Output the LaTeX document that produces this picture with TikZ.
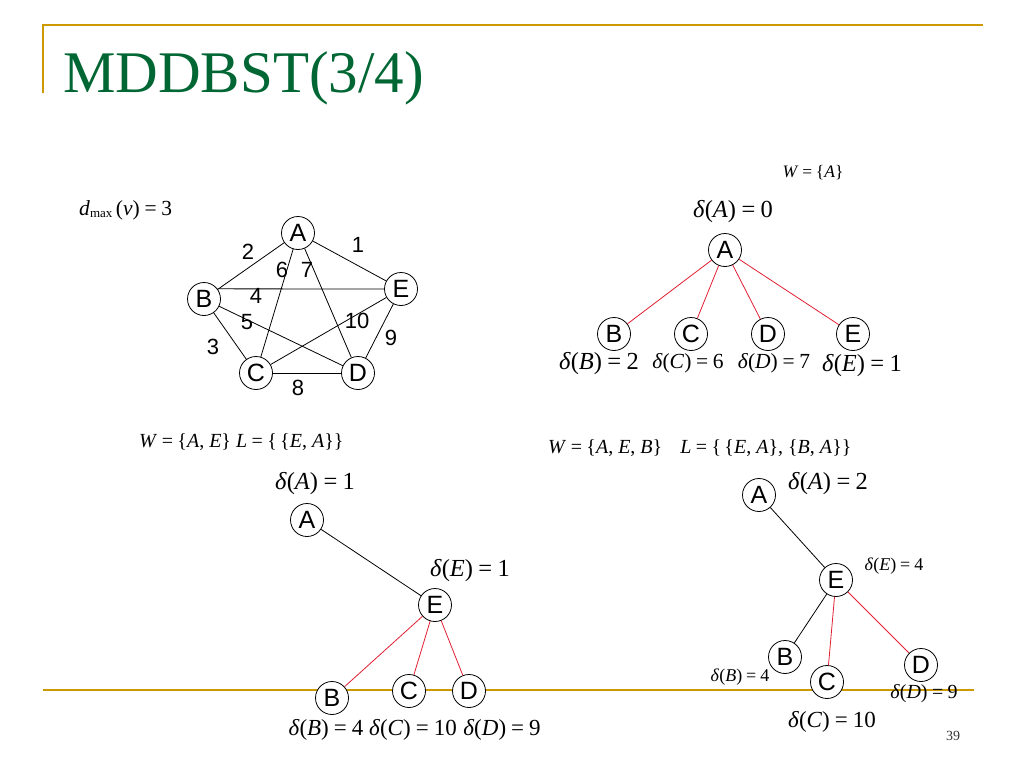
\documentclass[tikz,border=0pt]{standalone}
\usepackage{fontspec}
\setmainfont{Liberation Serif}
\newfontfamily\sansf{Liberation Sans}
\definecolor{titlegreen}{RGB}{0,102,51}
\definecolor{gold}{RGB}{204,153,0}
\definecolor{redge}{RGB}{225,30,50}
\newcommand\eqs{\hspace{0.22em}=\hspace{0.22em}}
\newcommand\dl[2]{\textit{δ}(\textit{#1})\eqs #2}
\tikzset{
  vtx/.style={circle, draw, fill=white, minimum size=33pt, inner sep=0pt, line width=0.8pt,
    font=\sansf\fontsize{25}{25}\selectfont},
  elab/.style={inner sep=0pt, font=\sansf\fontsize{22}{22}\selectfont},
  bigm/.style={inner sep=0pt, font=\fontsize{24.5}{24.5}\selectfont},
  botm/.style={inner sep=0pt, font=\fontsize{23}{23}\selectfont},
  midm/.style={inner sep=0pt, font=\fontsize{21.5}{21.5}\selectfont},
  wm/.style={inner sep=0pt, font=\fontsize{20}{20}\selectfont},
  smm/.style={inner sep=0pt, font=\fontsize{18}{18}\selectfont},
  blk/.style={line width=0.8pt},
  redg/.style={draw=redge, line width=0.8pt},
  goldline/.style={draw=gold, line width=2pt}
}
\begin{document}
\begin{tikzpicture}[x=1pt,y=-1pt]
\useasboundingbox (0,0) rectangle (1024,768);
% header and footer lines
\coordinate (h0) at (43,93);
\coordinate (h1) at (43,25);
\coordinate (h2) at (983,25);
\draw[goldline] (h0) -- (h1) -- (h2);
\coordinate (f0) at (43,690);
\coordinate (f1) at (974,690);
\draw[goldline] (f0) -- (f1);
\node[anchor=base west, inner sep=0pt, text=titlegreen, font=\fontsize{59}{59}\selectfont] (title) at (63,92) {MDDBST(3/4)};

% ---------- graph ----------
\node[midm, anchor=west] (dmax) at (79,210) {\textit{d}{\fontsize{13}{13}\selectfont\raisebox{-0.35ex}{max}}\,(\textit{v})\eqs 3};
\node[vtx] (gA) at (298,233) {A};
\node[vtx] (gB) at (204,299) {B};
\node[vtx] (gE) at (401,289) {E};
\node[vtx] (gC) at (256,373) {C};
\node[vtx] (gD) at (358,373) {D};
\draw[blk] (gA) -- (gB);
\draw[blk] (gA) -- (gE);
\draw[blk] (gA) -- (gC);
\draw[blk] (gA) -- (gD);
\draw[blk] (gB.37) -- (gE.west);
\draw[blk] (gB) -- (gC);
\draw[blk] (gB) -- (gD);
\draw[blk] (gC) -- (gE);
\draw[blk] (gC) -- (gD);
\draw[blk] (gD) -- (gE);
\node[elab] (l2) at (248,252) {2};
\node[elab] (l1) at (358,245) {1};
\node[elab] (l6) at (282,270) {6};
\node[elab] (l7) at (307,270) {7};
\node[elab] (l4) at (256,296) {4};
\node[elab] (l5) at (247,322) {5};
\node[elab] (l10) at (357,321) {10};
\node[elab] (l9) at (391,338) {9};
\node[elab] (l3) at (213,347) {3};
\node[elab] (l8) at (298,388) {8};

% ---------- tree 1 (top right) ----------
\node[inner sep=0pt, font=\fontsize{17.5}{17.5}\selectfont] (w1) at (813,173) {\textit{W}\eqs\{\textit{A}\}};
\node[bigm] (d1A) at (733,212) {\dl{A}{0}};
\node[vtx] (t1A) at (725,250) {A};
\node[vtx] (t1B) at (614,334) {B};
\node[vtx] (t1C) at (691,334) {C};
\node[vtx] (t1D) at (768,334) {D};
\node[vtx] (t1E) at (853,334) {E};
\draw[redg] (t1A) -- (t1B);
\draw[redg] (t1A) -- (t1C);
\draw[redg] (t1A) -- (t1D);
\draw[redg] (t1A) -- (t1E);
\node[bigm] (d1B) at (599,364) {\dl{B}{2}};
\node[midm] (d1C) at (688,363) {\dl{C}{6}};
\node[midm] (d1D) at (774,363) {\dl{D}{7}};
\node[bigm] (d1E) at (862,366) {\dl{E}{1}};

% ---------- tree 2 (bottom left) ----------
\node[wm, anchor=west] (w2) at (139,442) {\textit{W}\eqs\{\textit{A}, \textit{E}\} \textit{L}\eqs\{\,\{\textit{E}, \textit{A}\}\}};
\node[bigm] (d2A) at (315,484) {\dl{A}{1}};
\node[vtx] (t2A) at (307,520) {A};
\node[bigm] (d2E) at (470,571) {\dl{E}{1}};
\node[vtx] (t2E) at (435,605) {E};
\node[vtx] (t2B) at (332,698) {B};
\node[vtx] (t2C) at (409,691) {C};
\node[vtx] (t2D) at (469,691) {D};
\draw[blk] (t2A) -- (t2E);
\draw[redg] (t2E) -- (t2B);
\draw[redg] (t2E) -- (t2C);
\draw[redg] (t2E) -- (t2D);
\node[botm] (d2B) at (326,730) {\dl{B}{4}};
\node[botm] (d2C) at (413,730) {\dl{C}{10}};
\node[botm] (d2D) at (502,730) {\dl{D}{9}};

% ---------- tree 3 (bottom right) ----------
\node[wm, anchor=west] (w3) at (548,448) {\textit{W}\eqs\{\textit{A}, \textit{E}, \textit{B}\}\hspace{0.9em}\textit{L}\eqs\{\,\{\textit{E}, \textit{A}\}, \{\textit{B}, \textit{A}\}\}};
\node[vtx] (t3A) at (759,495) {A};
\node[bigm] (d3A) at (828,484) {\dl{A}{2}};
\node[vtx] (t3E) at (836,580) {E};
\node[smm] (d3E) at (894,566) {\dl{E}{4}};
\node[vtx] (t3B) at (785,657) {B};
\node[smm] (d3B) at (740,677) {\dl{B}{4}};
\node[vtx] (t3C) at (827,682) {C};
\node[vtx] (t3D) at (921,665) {D};
\draw[blk] (t3A) -- (t3E);
\draw[blk] (t3E) -- (t3B);
\draw[redg] (t3E) -- (t3C);
\draw[redg] (t3E) -- (t3D);
\node[botm] (d3C) at (832,722) {\dl{C}{10}};
\node[wm] (d3D) at (924,694) {\dl{D}{9}};

\node[inner sep=0pt, text=black!80, font=\fontsize{14}{14}\selectfont] (pg) at (953,736) {39};
\end{tikzpicture}
\end{document}
